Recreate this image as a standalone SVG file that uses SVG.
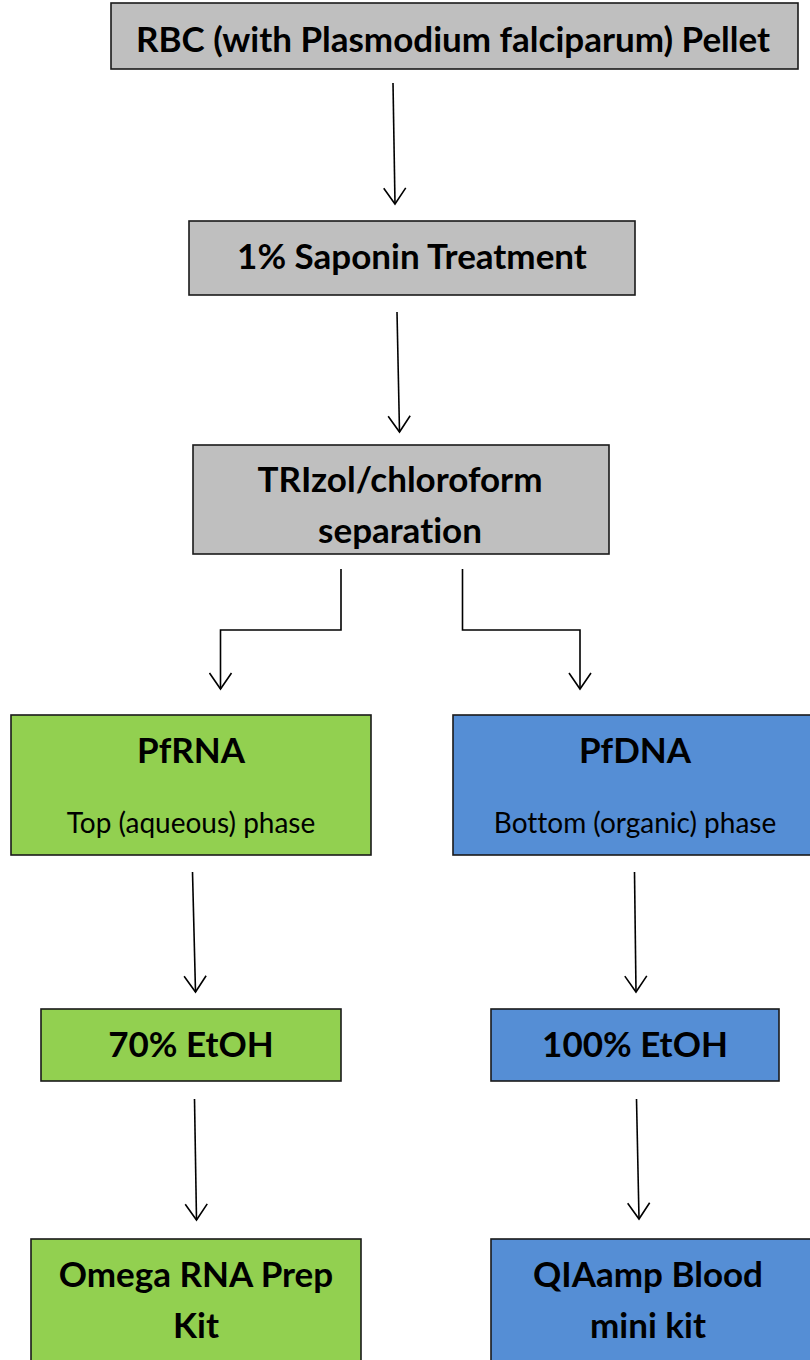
<svg xmlns="http://www.w3.org/2000/svg" width="810" height="1360" viewBox="0 0 810 1360">
  <defs>
    <style>
      .box { stroke: #1a1a1a; stroke-width: 1.6; }
      .gray { fill: #bfbfbf; }
      .green { fill: #92d050; }
      .blue { fill: #558ed5; }
      .t { font-family: Lato, "Open Sans", "Liberation Sans", sans-serif; fill: #000; text-anchor: middle; font-variant-ligatures: none; }
      .b { font-weight: bold; }
      .big { font-size: 35px; }
      .small { font-size: 28px; font-weight: normal; }
      .conn { stroke: #000; stroke-width: 1.6; fill: none; }
    </style>
    <marker id="arr" viewBox="0 0 24 24" refX="19" refY="12" markerWidth="24" markerHeight="24" markerUnits="userSpaceOnUse" orient="auto">
      <path d="M3 1 L19 12 L3 23" fill="none" stroke="#000" stroke-width="1.6"/>
    </marker>
    <clipPath id="clipSep"><rect x="193" y="445" width="416" height="109"/></clipPath>
  </defs>
  <rect width="810" height="1360" fill="#fff"/>

  <g id="node-rbc">
    <rect class="box gray" x="111" y="3" width="687" height="66"/>
    <text class="t b big" x="453" y="52">RBC (with Plasmodium falciparum) Pellet</text>
  </g>

  <g id="node-saponin">
    <rect class="box gray" x="189" y="221" width="446" height="74"/>
    <text class="t b big" x="412" y="269">1% Saponin Treatment</text>
  </g>

  <g id="node-trizol">
    <rect class="box gray" x="193" y="445" width="416" height="109"/>
    <g clip-path="url(#clipSep)">
      <text class="t b big" x="400" y="492">TRIzol/chloroform</text>
      <text class="t b big" x="400" y="543">separation</text>
    </g>
  </g>

  <g id="node-pfrna">
    <rect class="box green" x="11" y="715" width="360" height="140"/>
    <text class="t b big" x="191" y="763">PfRNA</text>
    <text class="t small" x="191" y="833">Top (aqueous) phase</text>
  </g>

  <g id="node-pfdna">
    <rect class="box blue" x="453" y="715" width="360" height="140"/>
    <text class="t b big" x="635" y="763">PfDNA</text>
    <text class="t small" x="635" y="833">Bottom (organic) phase</text>
  </g>

  <g id="node-etoh70">
    <rect class="box green" x="41" y="1009" width="300" height="72"/>
    <text class="t b big" x="191" y="1057">70% EtOH</text>
  </g>

  <g id="node-etoh100">
    <rect class="box blue" x="491" y="1009" width="288" height="72"/>
    <text class="t b big" x="635" y="1057">100% EtOH</text>
  </g>

  <g id="node-omega">
    <rect class="box green" x="31" y="1239" width="330" height="140"/>
    <text class="t b big" x="196" y="1287">Omega RNA Prep</text>
    <text class="t b big" x="196" y="1338">Kit</text>
  </g>

  <g id="node-qiaamp">
    <rect class="box blue" x="491" y="1239" width="330" height="140"/>
    <text class="t b big" x="648" y="1287">QIAamp Blood</text>
    <text class="t b big" x="648" y="1338">mini kit</text>
  </g>

  <g id="connectors">
    <line class="conn" x1="393" y1="83" x2="395" y2="204" marker-end="url(#arr)"/>
    <line class="conn" x1="397" y1="312" x2="399.5" y2="432" marker-end="url(#arr)"/>
    <polyline class="conn" points="341,569 341,630 220.5,630 220.5,689" marker-end="url(#arr)"/>
    <polyline class="conn" points="462.5,569 462.5,630 580,630 580,689" marker-end="url(#arr)"/>
    <line class="conn" x1="192.5" y1="872" x2="195.5" y2="992" marker-end="url(#arr)"/>
    <line class="conn" x1="634.5" y1="872" x2="636" y2="992" marker-end="url(#arr)"/>
    <line class="conn" x1="194.5" y1="1099" x2="196.5" y2="1220" marker-end="url(#arr)"/>
    <line class="conn" x1="636.5" y1="1099" x2="639" y2="1219" marker-end="url(#arr)"/>
  </g>
</svg>
